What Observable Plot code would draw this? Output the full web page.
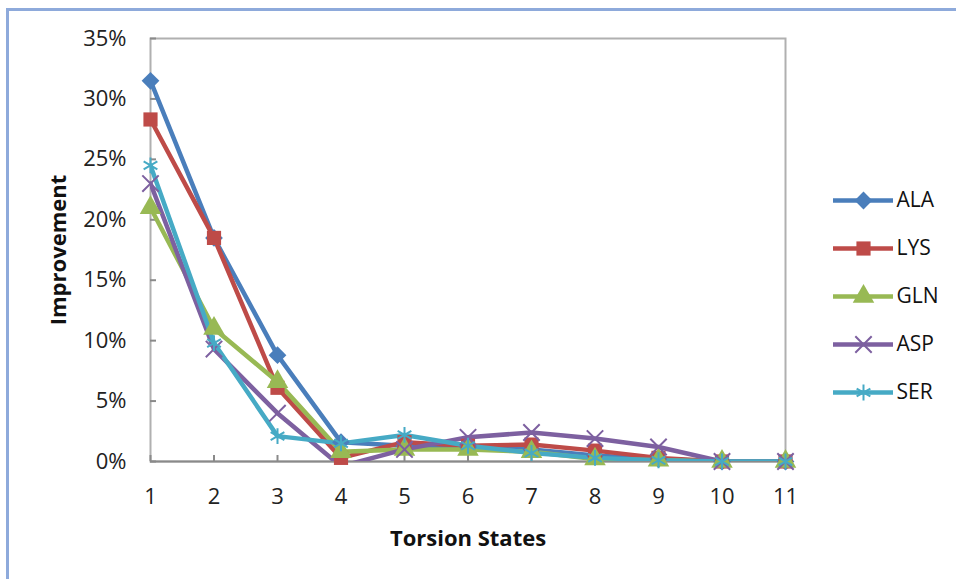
<!DOCTYPE html>
<html>
<head>
<meta charset="utf-8">
<script src="https://cdn.jsdelivr.net/npm/d3@7"></script>
<script src="https://cdn.jsdelivr.net/npm/@observablehq/plot@0.6"></script>
<style>
  html, body { margin: 0; padding: 0; background: #fff; }
  #wrap { position: relative; width: 956px; height: 579px; overflow: hidden; font-family: "Open Sans", sans-serif; }
  #border { position: absolute; left: 6px; top: 8px; width: 960px; height: 600px; border-left: 3px solid #8eaadb; border-top: 3px solid #8eaadb; box-sizing: border-box; }
  #main { position: absolute; left: 0; top: 0; }
  #legend { position: absolute; left: 833px; top: 176px; }
</style>
</head>
<body>
<div id="wrap"><div id="border"></div><div id="main"></div><div id="legend"></div></div>
<script>
const states = [1, 2, 3, 4, 5, 6, 7, 8, 9, 10, 11];
const seriesNames = ["ALA", "LYS", "GLN", "ASP", "SER"];
const ALA = [0.315, 0.185, 0.088, 0.016, 0.013, 0.012, 0.010, 0.005, 0.002, 0.000, 0.000];
const LYS = [0.283, 0.185, 0.061, 0.003, 0.016, 0.013, 0.014, 0.009, 0.003, 0.000, 0.000];
const GLN = [0.210, 0.110, 0.066, 0.008, 0.010, 0.010, 0.008, 0.002, 0.001, 0.000, 0.000];
const ASP = [0.230, 0.093, 0.040, -0.004, 0.010, 0.020, 0.024, 0.019, 0.012, 0.000, 0.000];
const SER = [0.245, 0.098, 0.021, 0.015, 0.022, 0.013, 0.007, 0.003, 0.001, 0.000, 0.000];
const yTicks = [0, 0.05, 0.10, 0.15, 0.20, 0.25, 0.30, 0.35];
const colors = ["#4a7ebb", "#be4b48", "#98b954", "#7d60a0", "#46aac5"];
const symbols = ["diamond2", "square", "triangle", "times", "asterisk"];
const filled = [true, true, true, false, false];

const seriesValues = {ALA, LYS, GLN, ASP, SER};
const rows = seriesNames.flatMap(name => states.map((s, i) => ({series: name, state: s, value: seriesValues[name][i]})));

const font = "'Open Sans', sans-serif";

const marks = [
  Plot.frame({stroke: "#b0b0b0", strokeWidth: 2}),
  Plot.ruleY([0], {stroke: "#8a8a8a", strokeWidth: 2}),
  Plot.axisY({ticks: yTicks, tickFormat: d3.format(".0%"), tickSize: 0, tickPadding: 24, fontSize: 22, fill: "#222", label: null}),
  Plot.axisY({ticks: yTicks, tickSize: -6, text: null, stroke: "#8a8a8a", strokeWidth: 2, label: null}),
  Plot.axisX({ticks: states, tickFormat: d3.format("d"), tickSize: 0, tickPadding: 27, fontSize: 22, fill: "#222", label: null}),
  Plot.axisX({ticks: states, tickSize: -6, text: null, stroke: "#8a8a8a", strokeWidth: 2, label: null}),
];
seriesNames.forEach((name, k) => {
  const data = rows.filter(r => r.series === name);
  marks.push(Plot.line(data, {x: "state", y: "value", stroke: colors[k], strokeWidth: 4.5, clip: true}));
});
seriesNames.forEach((name, k) => {
  const data = rows.filter(r => r.series === name && r.value >= 0);
  marks.push(Plot.dot(data, {
    x: "state", y: "value", symbol: symbols[k], r: filled[k] ? 8 : 7.5,
    fill: filled[k] ? colors[k] : "none", stroke: filled[k] ? "none" : colors[k], strokeWidth: 2
  }));
});
marks.push(Plot.text(["Improvement"], {text: d => d, frameAnchor: "left", textAnchor: "middle", dx: -92, rotate: -90, fontSize: 22, fontWeight: "bold", fill: "#111"}));
marks.push(Plot.text(["Torsion States"], {text: d => d, frameAnchor: "bottom", lineAnchor: "bottom", dy: 84, fontSize: 22, fontWeight: "bold", fill: "#111"}));

const chart = Plot.plot({
  width: 956, height: 579,
  marginLeft: 150, marginRight: 171, marginTop: 38, marginBottom: 118,
  style: {fontFamily: font, background: "transparent", overflow: "visible"},
  x: {domain: [1, 11], label: null},
  y: {domain: [0, 0.35], label: null},
  marks
});
document.getElementById("main").appendChild(chart);

// legend
const legendMarks = [];
seriesNames.forEach((name, k) => {
  legendMarks.push(Plot.ruleY([name], {y: d => d, stroke: colors[k], strokeWidth: 4.5}));
  legendMarks.push(Plot.dot([name], {y: d => d, frameAnchor: "middle", symbol: symbols[k], r: filled[k] ? 8 : 7.5,
    fill: filled[k] ? colors[k] : "none", stroke: filled[k] ? "none" : colors[k], strokeWidth: 2}));
});
legendMarks.push(Plot.text(seriesNames, {y: d => d, text: d => d, frameAnchor: "right", textAnchor: "start", dx: 3, fontSize: 21, fill: "#111"}));
const legend = Plot.plot({
  width: 120, height: 240,
  marginLeft: 0, marginRight: 60, marginTop: 24, marginBottom: 24,
  style: {fontFamily: font, background: "transparent", overflow: "visible"},
  x: {domain: [0, 1], axis: null},
  y: {type: "point", domain: seriesNames, axis: null, padding: 0},
  marks: legendMarks
});
document.getElementById("legend").appendChild(legend);
</script>
</body>
</html>
